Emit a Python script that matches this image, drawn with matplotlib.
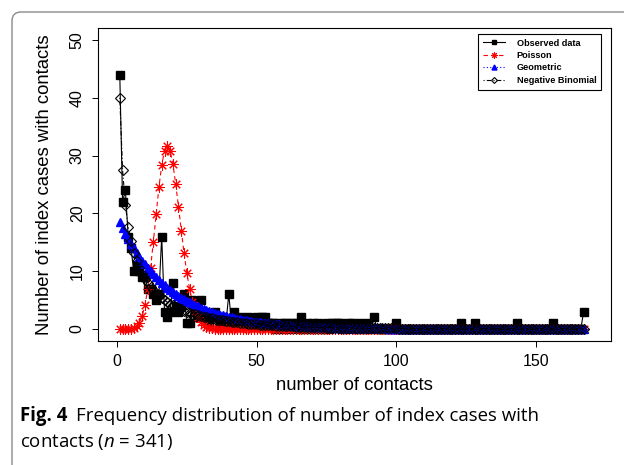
import numpy as np
import matplotlib
matplotlib.use("Agg")
import matplotlib.pyplot as plt
from matplotlib.path import Path
from matplotlib.patches import PathPatch

# number of contacts (1..167)
contacts = np.arange(1, 168)

observed = [
    44, 22, 24, 16, 14, 10, 11, 10, 9, 9,
    7, 7, 6, 5, 6, 16, 3, 2, 3, 8,
    4, 3, 4, 6, 1, 1, 5, 3, 2, 5,
    3, 2, 1, 2, 3, 2, 1, 2, 1, 6,
    1, 3, 1, 2, 1, 1, 2, 1, 1, 2,
    1, 2, 2, 1, 1, 1, 0, 1, 0, 1,
    1, 0, 1, 1, 0, 2, 0, 1, 0, 1,
    0, 1, 0, 0, 1, 0, 1, 1, 1, 1,
    0, 0, 1, 1, 0, 0, 1, 0, 0, 1,
    0, 2, 0, 0, 0, 0, 0, 0, 0, 1,
    0, 0, 0, 0, 0, 0, 0, 0, 0, 0,
    0, 0, 0, 0, 0, 0, 0, 0, 0, 0,
    0, 0, 1, 0, 0, 0, 0, 1, 0, 0,
    0, 0, 0, 0, 0, 0, 0, 0, 0, 0,
    0, 0, 1, 0, 0, 0, 0, 0, 0, 0,
    0, 0, 0, 0, 0, 1, 0, 0, 0, 0,
    0, 0, 0, 0, 0, 0, 3,
]

poisson = [
    0.00, 0.00, 0.00, 0.02, 0.06, 0.18, 0.46, 1.07, 2.20, 4.08,
    6.86, 10.57, 15.04, 19.87, 24.51, 28.34, 30.84, 31.70, 30.86, 28.55,
    25.15, 21.15, 17.01, 13.11, 9.70, 6.90, 4.73, 3.12, 1.99, 1.23,
    0.73, 0.42, 0.24, 0.13, 0.07, 0.04, 0.02, 0.01, 0.00, 0.00,
] + [0.0] * 127

geometric = [
    18.43, 17.43, 16.49, 15.60, 14.76, 13.96, 13.20, 12.49, 11.82, 11.18,
    10.57, 10.00, 9.46, 8.95, 8.47, 8.01, 7.58, 7.17, 6.78, 6.41,
    6.07, 5.74, 5.43, 5.13, 4.86, 4.59, 4.35, 4.11, 3.89, 3.68,
    3.48, 3.29, 3.11, 2.95, 2.79, 2.64, 2.49, 2.36, 2.23, 2.11,
    2.00, 1.89, 1.79, 1.69, 1.60, 1.51, 1.43, 1.35, 1.28, 1.21,
    1.15, 1.08, 1.03, 0.97, 0.92, 0.87, 0.82, 0.78, 0.73, 0.69,
    0.66, 0.62, 0.59, 0.56, 0.53, 0.50, 0.47, 0.44, 0.42, 0.40,
    0.38, 0.36, 0.34, 0.32, 0.30, 0.28, 0.27, 0.25, 0.24, 0.23,
    0.21, 0.20, 0.19, 0.18, 0.17, 0.16, 0.15, 0.14, 0.14, 0.13,
    0.12, 0.11, 0.11, 0.10, 0.10, 0.09, 0.08, 0.08, 0.08, 0.07,
    0.07, 0.06, 0.06, 0.06, 0.05, 0.05, 0.05, 0.04, 0.04, 0.04,
    0.04, 0.04, 0.03, 0.03, 0.03, 0.03, 0.03, 0.03, 0.02, 0.02,
    0.02, 0.02, 0.02, 0.02, 0.02, 0.02, 0.02, 0.02, 0.01, 0.01,
    0.01, 0.01, 0.01, 0.01, 0.01, 0.01, 0.01, 0.01, 0.01, 0.01,
    0.01, 0.01, 0.01, 0.01, 0.01, 0.01, 0.01, 0.01, 0.01, 0.01,
    0.00, 0.00, 0.00, 0.00, 0.00, 0.00, 0.00, 0.00, 0.00, 0.00,
    0.00, 0.00, 0.00, 0.00, 0.00, 0.00, 0.00,
]

neg_binomial = [
    40.00, 27.50, 21.45, 17.72, 15.14, 13.21, 11.70, 10.48, 9.47, 8.61,
    7.87, 7.23, 6.67, 6.17, 5.73, 5.33, 4.97, 4.64, 4.34, 4.07,
    3.82, 3.59, 3.38, 3.18, 3.00, 2.83, 2.67, 2.52, 2.39, 2.26,
    2.14, 2.03, 1.92, 1.82, 1.73, 1.64, 1.56, 1.48, 1.40, 1.33,
    1.27, 1.20, 1.14, 1.09, 1.03, 0.98, 0.94, 0.89, 0.85, 0.81,
    0.77, 0.73, 0.70, 0.67, 0.64, 0.61, 0.58, 0.55, 0.53, 0.50,
    0.48, 0.46, 0.44, 0.42, 0.40, 0.38, 0.36, 0.35, 0.33, 0.32,
    0.30, 0.29, 0.28, 0.27, 0.25, 0.24, 0.23, 0.22, 0.21, 0.20,
    0.19, 0.19, 0.18, 0.17, 0.16, 0.16, 0.15, 0.14, 0.14, 0.13,
    0.13, 0.12, 0.12, 0.11, 0.11, 0.10, 0.10, 0.09, 0.09, 0.09,
    0.08, 0.08, 0.08, 0.07, 0.07, 0.07, 0.06, 0.06, 0.06, 0.06,
    0.05, 0.05, 0.05, 0.05, 0.05, 0.04, 0.04, 0.04, 0.04, 0.04,
    0.04, 0.03, 0.03, 0.03, 0.03, 0.03, 0.03, 0.03, 0.03, 0.03,
    0.03, 0.03, 0.02, 0.02, 0.02, 0.02, 0.02, 0.02, 0.02, 0.02,
    0.02, 0.02, 0.02, 0.02, 0.02, 0.02, 0.02, 0.02, 0.02, 0.02,
    0.02, 0.02, 0.01, 0.01, 0.01, 0.01, 0.01, 0.01, 0.01, 0.01,
    0.01, 0.01, 0.01, 0.01, 0.01, 0.01, 0.01,
]

x_ticks = [0, 50, 100, 150]
y_ticks = [0, 10, 20, 30, 40, 50]

plt.rcParams["font.family"] = ["Liberation Sans", "DejaVu Sans"]
plt.rcParams["mathtext.fontset"] = "custom"
plt.rcParams["mathtext.rm"] = "Open Sans"
plt.rcParams["mathtext.it"] = "Open Sans:italic"

W, H = 624, 465
fig = plt.figure(figsize=(W / 100, H / 100), dpi=100)
ax = fig.add_axes([98 / W, (H - 341) / H, (611 - 98) / W, (341 - 28) / H])

ax.plot(contacts, observed, color="black", lw=0.8, ls="-",
        marker="s", ms=5.5, label="Observed data")
ax.plot(contacts, poisson, color="red", lw=0.8, ls=(0, (4, 3)),
        marker=(8, 2, 0), ms=7.5, mew=0.75, label="Poisson")
ax.plot(contacts, geometric, color="blue", lw=0.8, ls=(0, (1, 2)),
        marker="^", ms=6, label="Geometric")
ax.plot(contacts, neg_binomial, color="black", lw=0.8, ls=(0, (1, 2, 4, 2)),
        marker="D", ms=5, mfc="none", mew=0.8, label="Negative Binomial")

ax.set_xlim(-6.8, 176.8)
ax.set_ylim(-2.08, 52.08)
ax.set_xticks(x_ticks)
ax.set_yticks(y_ticks)
ax.tick_params(direction="out", length=4.5, width=0.7, labelsize=11.5, pad=5)
for lab in ax.get_yticklabels():
    lab.set_rotation(90)
    lab.set_va("center")
for s in ax.spines.values():
    s.set_linewidth(0.8)

leg = ax.legend(loc="upper right", bbox_to_anchor=(0.9805, 0.981),
                borderaxespad=0, fancybox=False, edgecolor="black",
                framealpha=1, markerscale=0.6, handlelength=2.4,
                handletextpad=1.3, labelspacing=0.38, borderpad=0.5,
                prop={"weight": "bold", "size": 6.6})
leg.get_frame().set_linewidth(0.8)

fig.text(354.5 / W, 1 - 385 / H, "number of contacts",
         ha="center", va="center", fontsize=13.3)
fig.text(45 / W, 1 - 184.5 / H, "Number of index cases with contacts",
         ha="center", va="center", rotation=90, fontsize=13.3)

# journal frame (top and left edges, rounded corner)
verts = [(12, H), (12, 21), (12, 12), (21, 12), (W, 12)]
verts = [(vx / 100, (H - vy) / 100) for vx, vy in verts]
codes = [Path.MOVETO, Path.LINETO, Path.CURVE3, Path.CURVE3, Path.LINETO]
fig.add_artist(PathPatch(Path(verts, codes), fc="none", ec="#8a8a8a",
                         lw=1.0, transform=fig.dpi_scale_trans))

# caption
cap_size = 13.4
renderer = fig.canvas.get_renderer()
t1 = fig.text(20 / W, 1 - 421 / H, "Fig. 4", family="Open Sans",
              weight="bold", fontsize=cap_size, va="baseline")
bb = t1.get_window_extent(renderer)
fig.text(bb.x1 / W + 9 / W, 1 - 421 / H,
         "Frequency distribution of number of index cases with",
         family="Open Sans", fontsize=cap_size, va="baseline")
fig.text(20 / W, 1 - 447 / H, r"contacts ($n$ = 341)",
         family="Open Sans", fontsize=cap_size, va="baseline")

fig.savefig("out.png", dpi=100)
